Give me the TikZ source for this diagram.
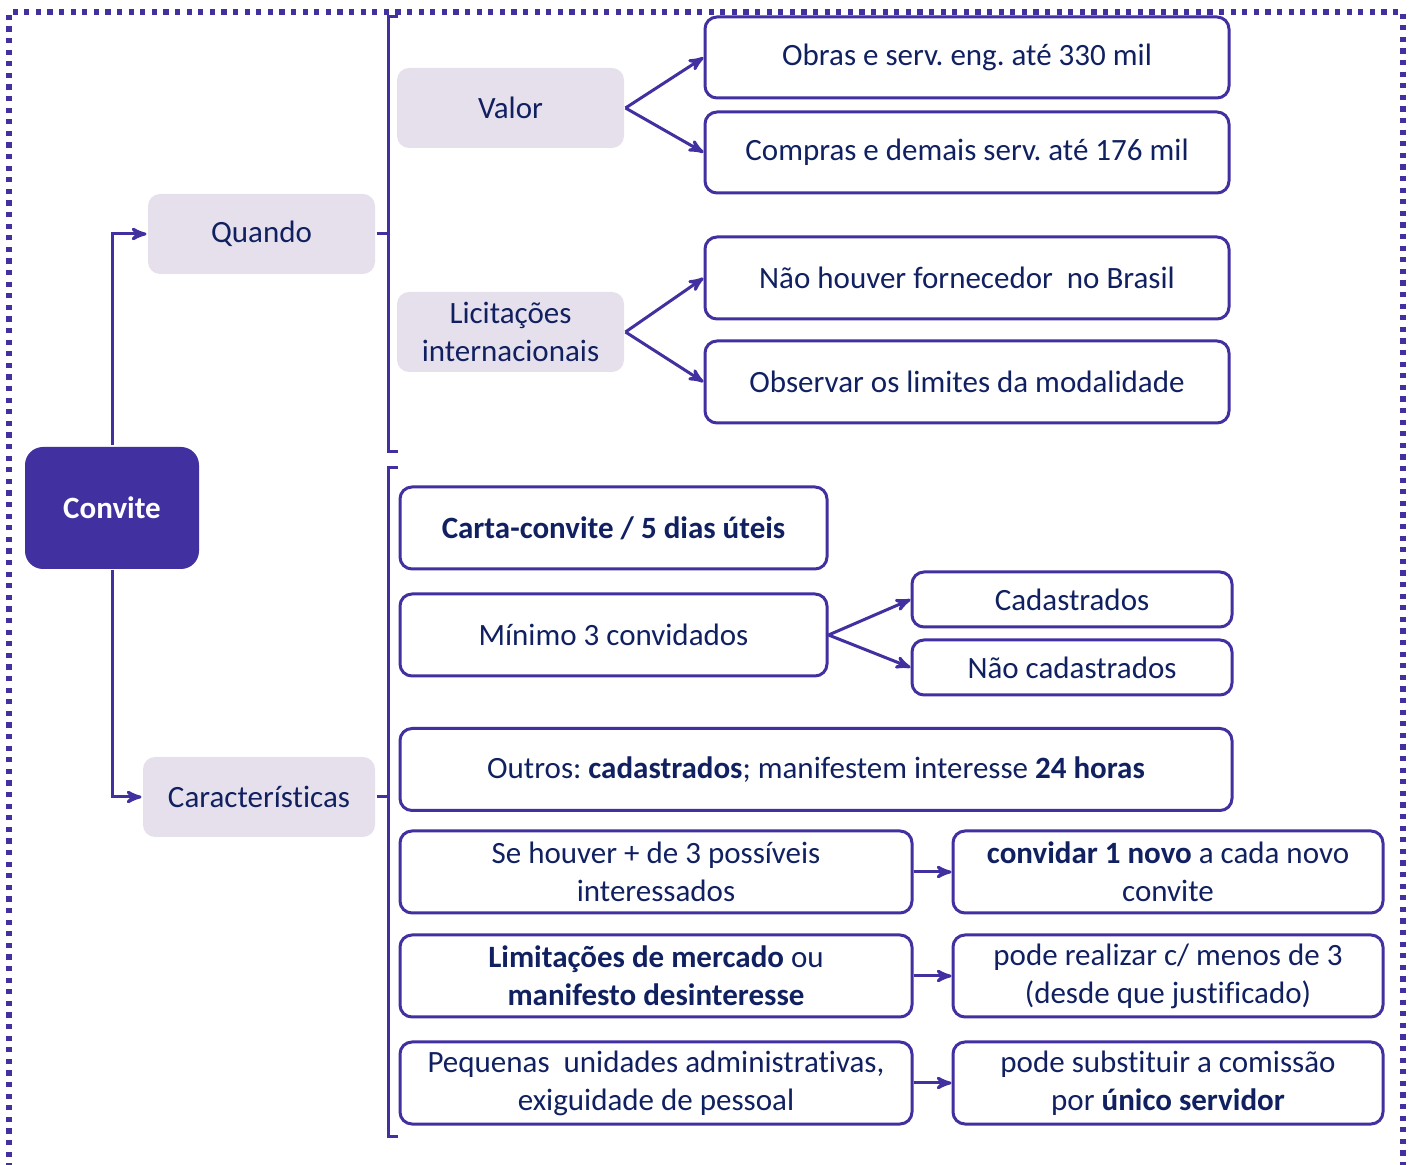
\documentclass[tikz,border=0pt]{standalone}
\usepackage{fontspec}
\setmainfont{Carlito}[Ligatures=NoCommon]
\usetikzlibrary{shapes}
\usetikzlibrary{arrows}
\usetikzlibrary{positioning}
\usetikzlibrary{calc}
\definecolor{roxo}{RGB}{65,48,160}
\definecolor{lilas}{RGB}{230,224,236}
\definecolor{azul}{RGB}{16,32,96}
\frenchspacing

\begin{document}
\begin{tikzpicture}[x=0.5pt,y=-0.5pt,>=stealth',line width=1.5pt]
        \tikzstyle{every node}=[align=center, inner sep=2pt, text=azul, font=\fontsize{15.5}{19}\selectfont]
        \tikzstyle{caixa}=[draw=roxo, rounded corners=6pt, minimum height=41pt]
        \tikzstyle{cinza}=[fill=lilas, rounded corners=6pt, minimum width=113.5pt, minimum height=40pt]
        \tikzstyle{seta}=[->, draw=roxo]
        \tikzstyle{chave}=[draw=roxo]
        \useasboundingbox (0,0) rectangle (1410,1165);
        \draw[roxo, line width=2.6pt, dash pattern=on 2.6pt off 3.2pt] (9,1180) -- (9,12) -- (1403,12) -- (1403,1180);
        % esquerda
        \node[fill=roxo, rounded corners=9pt, minimum width=87pt, minimum height=61pt, text=white, font=\fontsize{15.5}{19}\selectfont\bfseries] (convite) at (112,508) {Convite};
        \node[cinza] (quando) at (261.5,234) {Quando};
        \node[cinza, minimum width=116pt] (caracteristicas) at (259,797) {Características};
        % quando
        \node[cinza] (valor) at (510.5,108) {Valor};
        \node[cinza] (licitacoes) at (510.5,332) {Licitações\\internacionais};
        \node[caixa, minimum width=262pt, minimum height=40.5pt] (obras) at (967,57.5) {Obras e serv. eng. até 330 mil};
        \node[caixa, minimum width=262pt, minimum height=40.5pt, below=5.5pt of obras] (compras) {Compras e demais serv. até 176 mil};
        \node[caixa, minimum width=262pt] (fornecedor) at (967,278) {Não houver fornecedor~~no Brasil};
        \node[caixa, minimum width=262pt, below=9.5pt of fornecedor] (limites) {Observar os limites da modalidade};
        % caracteristicas
        \node[caixa, minimum width=213.5pt, font=\fontsize{15.5}{19}\selectfont\bfseries] (carta) at (613.5,528) {Carta-convite / 5 dias úteis};
        \node[caixa, minimum width=213.5pt] (minimo) at (613.5,635) {Mínimo 3 convidados};
        \node[caixa, minimum width=160pt, minimum height=27.5pt] (cadastrados) at (1072,599.5) {Cadastrados};
        \node[caixa, minimum width=160pt, minimum height=27.5pt, below=5pt of cadastrados] (naocadastrados) {Não cadastrados};
        \node[caixa, minimum width=416pt] (outros) at (816,769.5) {Outros: \textbf{cadastrados}; manifestem interesse \textbf{24 horas}};
        \node[caixa, minimum width=256pt] (sehouver) at (656,872) {Se houver + de 3 possíveis\\interessados};
        \node[caixa, minimum width=215pt, right=19pt of sehouver] (convidar) {\textbf{convidar 1 novo} a cada novo\\convite};
        \node[caixa, minimum width=256pt] (limitacoes) at (656,976) {\textbf{Limitações de mercado} ou\\\textbf{manifesto desinteresse}};
        \node[caixa, minimum width=215pt, right=19pt of limitacoes] (realizar) {pode realizar c/ menos de 3\\(desde que justificado)};
        \node[caixa, minimum width=256pt] (pequenas) at (656,1083) {Pequenas~~unidades administrativas,\\exiguidade de pessoal};
        \node[caixa, minimum width=215pt, right=19pt of pequenas] (substituir) {pode substituir a comissão\\por \textbf{único servidor}};
        % chaves
        \coordinate (chaveA) at (388,17);
        \coordinate (chaveB) at (388,468);
        \path[chave] (398,17) -- (chaveA) -- (388,452) -- (398,452);
        \path[chave] (quando.east) -- (quando.east -| chaveA);
        \path[chave] (398,468) -- (chaveB) -- (388,1136) -- (398,1136);
        \path[chave] (caracteristicas.east) -- (caracteristicas.east -| chaveB);
        % setas
        \path[seta] (convite.north) |- (quando.west);
        \path[seta] (convite.south) |- (caracteristicas.west);
        \path[seta] (valor.east) -- (obras.west);
        \path[seta] (valor.east) -- (compras.west);
        \path[seta] (licitacoes.east) -- (fornecedor.west);
        \path[seta] (licitacoes.east) -- (limites.west);
        \path[seta] (minimo.east) -- (cadastrados.west);
        \path[seta] (minimo.east) -- (naocadastrados.west);
        \path[seta] (sehouver) -- (convidar);
        \path[seta] (limitacoes) -- (realizar);
        \path[seta] (pequenas) -- (substituir);
      \end{tikzpicture}
\end{document}
